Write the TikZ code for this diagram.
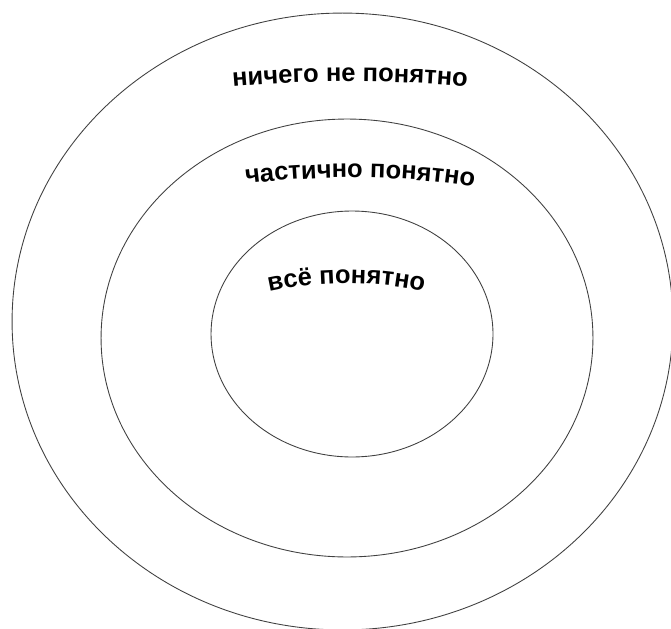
\documentclass[tikz,border=0pt]{standalone}
\usepackage{fontspec}
\setmainfont{Liberation Sans}
\usetikzlibrary{shapes.geometric,decorations.text}
\newcommand{\lblfont}{\fontsize{14.5}{17}\selectfont\bfseries}

\begin{document}
\begin{tikzpicture}[
    x=0.02cm, y=-0.02cm,
    ring/.style={
        draw=black!75,
        line width=0.5pt,
        ellipse,
        inner sep=0pt,
        outer sep=0pt
    },
    arclabel/.style={
        decorate,
        decoration={
            text along path,
            text align=center,
            text={|\lblfont|#1}
        }
    }
]
\useasboundingbox (0,0) rectangle (671,628);

\node[ring, minimum width=13.22cm, minimum height=12.34cm] (nichego) at (342.5,321.5) {};
\node[ring, minimum width=9.84cm, minimum height=8.76cm] (chastichno) at (347,338) {};
\node[ring, minimum width=5.64cm, minimum height=4.92cm] (vsyo) at (352,334) {};

\path[arclabel=ничего не понятно] (228,87) .. controls (300,80) and (400,80) .. (472,87);
\path[arclabel=частично понятно] (246,184) .. controls (320,175) and (400,175) .. (474,187);
\path[arclabel=всё понятно] (276,290) .. controls (320,281) and (370,281) .. (417,290);

\end{tikzpicture}
\end{document}
